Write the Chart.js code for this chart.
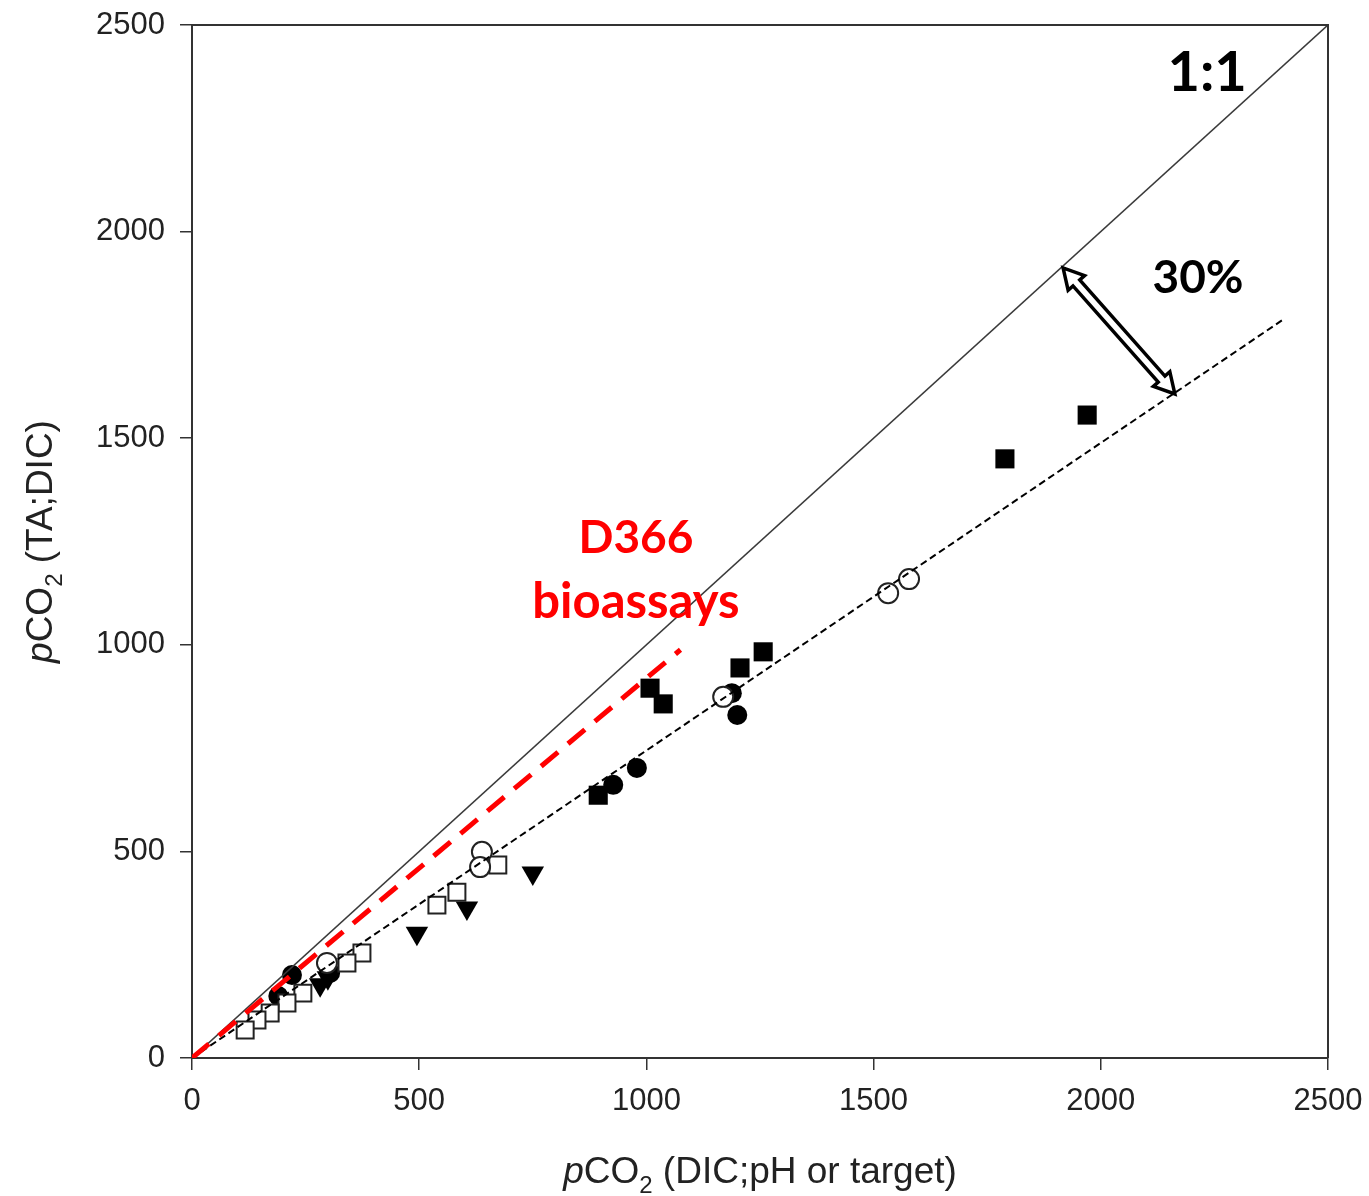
<!DOCTYPE html>
<html>
<head>
<meta charset="utf-8">
<script src="https://cdn.jsdelivr.net/npm/chart.js@4.4.1/dist/chart.umd.min.js"></script>
<style>
html,body{margin:0;padding:0;background:#ffffff;}
#wrap{width:1369px;height:1196px;position:relative;}
</style>
</head>
<body>
<div id="wrap"><canvas id="c" width="1369" height="1196"></canvas></div>
<script>
// ---------- data ----------
const xTicks = [0, 500, 1000, 1500, 2000, 2500];
const yTicks = [0, 500, 1000, 1500, 2000, 2500];

const filledSquareX = [1970, 1789, 1257, 1206, 1008, 1037, 894];
const filledSquareY = [1556, 1450, 983, 944, 895, 857, 636];

const filledCircleX = [1200, 1188, 979, 927, 220, 304, 190];
const filledCircleY = [830, 883, 702, 661, 201, 206, 150];

const openCircleX = [1578, 1532, 1169, 638, 634, 297];
const openCircleY = [1159, 1125, 874, 499, 462, 230];

const openSquareX = [673, 583, 539, 374, 341, 244, 209, 172, 143, 117];
const openSquareY = [467, 401, 370, 254, 230, 157, 133, 109, 92, 68];

const triangleX = [750, 605, 495, 299, 282];
const triangleY = [448, 363, 302, 194, 177];

const oneToOneX = [0, 2500];
const oneToOneY = [0, 2500];
const fitX = [0, 2405];
const fitY = [0, 1790];
const d366X = [0, 1075];
const d366Y = [0, 988];
const arrowX = [1917, 2163];
const arrowY = [1912, 1607];

const labelOneToOne = "1:1";
const labelThirty = "30%";
const labelD366 = ["D366", "bioassays"];
const xTitleParts = ["p", "CO", "2", " (DIC;pH or target)"];
const yTitleParts = ["p", "CO", "2", " (TA;DIC)"];

// ---------- helpers ----------
const pts = (xs, ys) => xs.map((x, i) => ({x: x, y: ys[i]}));
const SANS = '"Liberation Sans", Arial, sans-serif';
const BOLD = '"Lato", "Open Sans", sans-serif';

function richParts(parts, size) {
  return [
    {t: parts[0], font: 'italic ' + size + 'px ' + SANS, dy: 0},
    {t: parts[1], font: size + 'px ' + SANS, dy: 0},
    {t: parts[2], font: Math.round(size * 0.66) + 'px ' + SANS, dy: size * 0.26},
    {t: parts[3], font: size + 'px ' + SANS, dy: 0}
  ];
}
function drawRich(ctx, segs, cx, baseY) {
  let total = 0;
  segs.forEach(s => { ctx.font = s.font; s.w = ctx.measureText(s.t).width; total += s.w; });
  let x = cx - total / 2;
  ctx.textAlign = 'left';
  ctx.textBaseline = 'alphabetic';
  segs.forEach(s => { ctx.font = s.font; ctx.fillText(s.t, x, baseY + s.dy); x += s.w; });
}

const decor = {
  id: 'decor',
  afterDatasetsDraw(chart) {
    const ctx = chart.ctx;
    const xs = chart.scales.x, ys = chart.scales.y;
    // double arrow
    const p1 = {x: xs.getPixelForValue(arrowX[0]), y: ys.getPixelForValue(arrowY[0])};
    const p2 = {x: xs.getPixelForValue(arrowX[1]), y: ys.getPixelForValue(arrowY[1])};
    const dx = p2.x - p1.x, dy = p2.y - p1.y, L = Math.hypot(dx, dy);
    const u = {x: dx / L, y: dy / L}, n = {x: -u.y, y: u.x};
    const H = 20, W = 11, S = 4.5;
    const P = (b, a, k) => ({x: b.x + u.x * a + n.x * k, y: b.y + u.y * a + n.y * k});
    const poly = [p1, P(p1, H, W), P(p1, H, S), P(p2, -H, S), P(p2, -H, W), p2,
                  P(p2, -H, -W), P(p2, -H, -S), P(p1, H, -S), P(p1, H, -W)];
    ctx.save();
    ctx.beginPath();
    poly.forEach((p, i) => i ? ctx.lineTo(p.x, p.y) : ctx.moveTo(p.x, p.y));
    ctx.closePath();
    ctx.fillStyle = '#ffffff';
    ctx.fill();
    ctx.lineWidth = 3.5;
    ctx.lineJoin = 'miter';
    ctx.strokeStyle = '#000000';
    ctx.stroke();

    // annotation texts
    ctx.textAlign = 'center';
    ctx.textBaseline = 'alphabetic';
    ctx.fillStyle = '#000000';
    ctx.font = 'bold 56px ' + BOLD;
    ctx.fillText(labelOneToOne, xs.getPixelForValue(2234), ys.getPixelForValue(2389) + 20);
    ctx.font = 'bold 46px ' + BOLD;
    ctx.fillText(labelThirty, xs.getPixelForValue(2214), ys.getPixelForValue(1890) + 16);
    ctx.fillStyle = '#ff0000';
    ctx.fillText(labelD366[0], xs.getPixelForValue(977), ys.getPixelForValue(1261) + 16);
    ctx.font = 'bold 49px ' + BOLD;
    ctx.fillText(labelD366[1], xs.getPixelForValue(977), ys.getPixelForValue(1108) + 18);
    ctx.restore();
  },
  afterDraw(chart) {
    const ctx = chart.ctx, a = chart.chartArea;
    ctx.save();
    ctx.strokeStyle = '#333333';
    ctx.lineWidth = 2;
    ctx.beginPath();
    ctx.moveTo(a.left, a.top);
    ctx.lineTo(a.right, a.top);
    ctx.lineTo(a.right, a.bottom);
    ctx.stroke();
    // axis titles
    ctx.fillStyle = '#222222';
    drawRich(ctx, richParts(xTitleParts, 37), (a.left + a.right) / 2, 1183);
    ctx.translate(52, (a.top + a.bottom) / 2);
    ctx.rotate(-Math.PI / 2);
    drawRich(ctx, richParts(yTitleParts, 37), 0, 0);
    ctx.restore();
  }
};

const tickFont = {family: SANS, size: 31};

new Chart(document.getElementById('c'), {
  type: 'scatter',
  data: {
    datasets: [
      {data: pts(d366X, d366Y), showLine: true, pointRadius: 0, borderColor: '#ff0000', borderWidth: 5, borderDash: [22, 13], fill: false},
      {data: pts(fitX, fitY), showLine: true, pointRadius: 0, borderColor: '#000000', borderWidth: 2, borderDash: [7, 4], fill: false},
      {data: pts(oneToOneX, oneToOneY), showLine: true, pointRadius: 0, borderColor: '#3a3a3a', borderWidth: 1.6, fill: false},
      {data: pts(openCircleX, openCircleY), pointStyle: 'circle', pointRadius: 10, backgroundColor: '#ffffff', borderColor: '#222222', borderWidth: 2},
      {data: pts(openSquareX, openSquareY), pointStyle: 'rect', pointRadius: 12, backgroundColor: '#ffffff', borderColor: '#222222', borderWidth: 2},
      {data: pts(filledCircleX, filledCircleY), pointStyle: 'circle', pointRadius: 10, backgroundColor: '#000000', borderColor: '#000000', borderWidth: 0},
      {data: pts(triangleX, triangleY), pointStyle: 'triangle', rotation: 180, pointRadius: 13, backgroundColor: '#000000', borderColor: '#000000', borderWidth: 0},
      {data: pts(filledSquareX, filledSquareY), pointStyle: 'rect', pointRadius: 13.5, backgroundColor: '#000000', borderColor: '#000000', borderWidth: 0}
    ]
  },
  options: {
    responsive: false,
    animation: false,
    devicePixelRatio: 1,
    layout: {padding: {left: 0, right: 41, top: 25, bottom: 0}},
    plugins: {legend: {display: false}, tooltip: {enabled: false}},
    scales: {
      x: {
        type: 'linear', position: 'bottom', min: 0, max: 2500,
        afterBuildTicks: s => { s.ticks = xTicks.map(v => ({value: v})); },
        afterFit: s => { s.height = 138; s.paddingLeft = 0; s.paddingRight = 0; },
        ticks: {font: tickFont, color: '#222222', padding: 13, maxRotation: 0, autoSkip: false, callback: v => String(v)},
        grid: {drawOnChartArea: false, drawTicks: true, tickLength: 12, color: '#333333', lineWidth: 1.5},
        border: {display: true, color: '#333333', width: 2}
      },
      y: {
        type: 'linear', position: 'left', min: 0, max: 2500,
        afterBuildTicks: s => { s.ticks = yTicks.map(v => ({value: v})); },
        afterFit: s => { s.width = 192; s.paddingTop = 0; s.paddingBottom = 0; },
        ticks: {font: tickFont, color: '#222222', padding: 15, autoSkip: false, callback: v => String(v)},
        grid: {drawOnChartArea: false, drawTicks: true, tickLength: 12, color: '#333333', lineWidth: 1.5},
        border: {display: true, color: '#333333', width: 2}
      }
    }
  },
  plugins: [decor]
});
</script>
</body>
</html>
